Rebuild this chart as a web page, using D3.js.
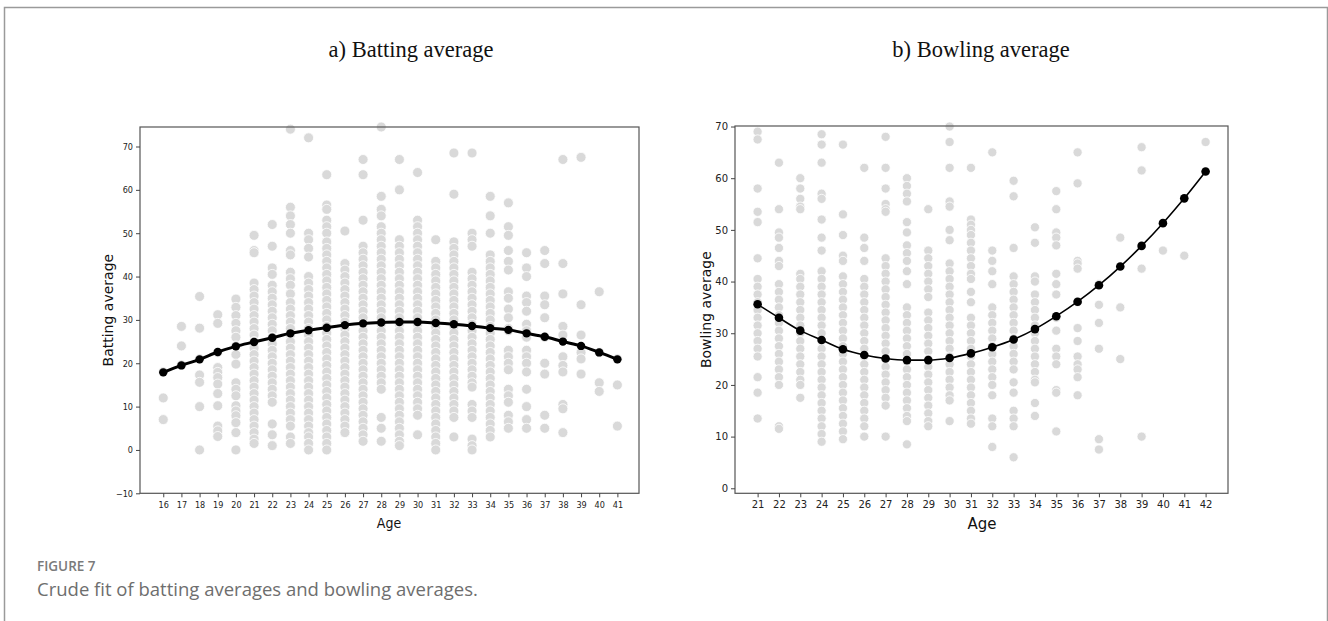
<!DOCTYPE html>
<html><head><meta charset="utf-8">
<script src="https://cdn.jsdelivr.net/npm/d3@7"></script>
<style>
body{margin:0;background:#fff;}
svg{display:block;}
</style></head>
<body>
<svg id="chart" width="1328" height="621"></svg>
<script>
// ---------- DATA ----------
const battingAges = d3.range(16, 42);
const battingFit = [17.9,19.5,20.9,22.6,23.9,24.9,25.9,26.9,27.6,28.2,28.8,29.2,29.4,29.5,29.5,29.3,29.0,28.6,28.1,27.7,26.9,26.1,25.0,24.0,22.5,20.9];
const battingScatter = {
  16:[18,12,7],
  17:[28.5,24,19.6],
  18:[35.4,28.1,21,17.3,15.6,10,0],
  19:[31.2,29.2,22.5,19,17.9,16.7,15.2,13,10.2,5.5,4.4,3.1],
  20:[34.8,32.9,31,29.2,27.5,26,24,22,19.8,15.5,14,12.5,10.2,9,7.9,6.3,4,0],
  21:[49.5,46,45.5,38.5,37,35.5,34,32.5,31,29.5,28,26.5,25,23.5,22,20.5,19,17.5,16,14.5,13,11.5,10,8.5,7,5.5,4,2.5,1.5],
  22:[52,47,42,40.5,38,36.5,35,33.5,32,30.5,29,27.5,26,24.5,23,21.5,20,18.5,17,15.5,14,12.5,11,6,3.5,1],
  23:[74,56,54,52,50,46,45,41,39.5,38,36,34,32.5,31,29.5,28,26.5,25,23.5,22,20.5,19,17.5,16,14.5,13,11.5,10,8.5,7,5.5,3,1.5],
  24:[72,50,48.5,46.5,44.5,40,38.5,37,35.5,34,32.5,31,29.5,28,26.5,25,23.5,22,20.5,19,17.5,16,14.5,13,11.5,10,8.5,7,5.5,4,3,1.5,0],
  25:[63.5,56.5,55.5,53,51.5,50,48,46.5,45,43.5,42,40.5,39,37.5,36,34.5,33,31.5,30,28.5,27,25.5,24,22.5,21,19.5,18,16.5,15,13.5,12,10.5,9,7.5,6,4.5,3,1.5,0],
  26:[50.5,43,41.5,40,38.5,37,35.5,34,32.5,31,29.5,28,26.5,25,23.5,22,20.5,19,17.5,16,14.5,13,11.5,10,8.5,7,5.5,4],
  27:[67,63.5,53,47,45.5,44,42.5,41,39.5,38,36.5,35,33.5,32,30.5,29,27.5,26,24.5,23,21.5,20,18.5,17,15.5,14,12.5,11,9.5,8,6.5,5,3.5,2],
  28:[74.5,58.5,55.5,54,51.5,50,48.5,47,45.5,44,42.5,41,39.5,38,36.5,35,33.5,32,30.5,29,27.5,26,24.5,23,21.5,20,18.5,17,15.5,14,7.5,5,2],
  29:[67,60,48.5,47,45.5,44,42.5,41,39.5,38,36.5,35,33.5,32,30.5,29,27.5,26,24.5,23,21.5,20,18.5,17,15.5,14,12.5,11,9.5,8,6.5,5,3.5,2,1],
  30:[64,53,51.5,50,48.5,47,45.5,44,42.5,41,39.5,38,36.5,35,33.5,32,30.5,29,27.5,26,24.5,23,21.5,20,18.5,17,15.5,14,12.5,11,9.5,8,3.5],
  31:[48.5,43.5,42,40.5,39,37.5,36,34.5,33,31.5,30,28.5,27,25.5,24,22.5,21,19.5,18,16.5,15,13.5,12,10.5,9,7.5,6,4.5,3,1.5,0],
  32:[68.5,59,48,46.5,45,43.5,42,40.5,39,37.5,36,34.5,33,31.5,30,28.5,27,25.5,24,22.5,21,19.5,18,16.5,15,13.5,12,10.5,9,7.5,3],
  33:[68.5,50,48.5,47,41,39.5,38,36.5,35,33.5,32,30.5,29,27.5,26,24.5,23,21.5,20,18.5,17,15.5,14.5,10.5,9,7.5,2.5,1,0],
  34:[58.5,54,50,45,43.5,42,40.5,39,37.5,36,34.5,33,31.5,30,28.5,27,25.5,24,22.5,21,19.5,18,16.5,15,13.5,12,10.5,9,7.5,6,4.5,3],
  35:[57,51.5,49.5,46,43.5,41.5,36.5,35,32.5,30.5,28,27.5,23,21.5,20,18.5,14,12.5,11,8,6.5,5],
  36:[45.5,42,40,35.5,34,32,29,27.5,26,23,21.5,20,18,14,10,7,5],
  37:[46,43,35.5,33.5,30.5,26,20,17.5,8,5],
  38:[67,43,36,28.5,26.5,21.5,19.5,18,10.5,9.5,4],
  39:[67.5,33.5,26.5,22.5,21,17.5],
  40:[36.5,22.5,15.5,13.5],
  41:[21,15,5.5]
};
const bowlingAges = d3.range(21, 43);
const bowlingFit = [35.6,33.0,30.5,28.7,26.9,25.8,25.1,24.8,24.8,25.2,26.1,27.3,28.8,30.8,33.3,36.1,39.3,42.9,46.9,51.3,56.1,61.3];
const bowlingScatter = {
  21:[69,67.5,58,53.5,51.5,44.5,40.5,39,37.5,36,34.5,33,31.5,30,28.5,27,25.5,21.5,18.5,13.5],
  22:[63,54,49.5,48.5,46.5,44,43,39.5,38,36.5,35,33.5,32,30.5,29,27.5,26,24.5,23,21.5,20,12,11.5],
  23:[60,58,56,54.5,54,41.5,40.5,39,37.5,36,34.5,33,31.5,30,28.5,27,25.5,24,22.5,21,20,17.5],
  24:[68.5,66.5,63,57,56,52,48.5,46,42,40.5,39,37.5,36,34.5,33,31.5,30,28.5,27,25.5,24,22.5,21,19.5,18,16.5,15,13.5,12,10.5,9],
  25:[66.5,53,49,45,44,41,39.5,38,36.5,35,33.5,32,30.5,29,27.5,26,24.5,23,21.5,20,18.5,17,15.5,14,12.5,11,9.5],
  26:[62,48.5,46.5,44,40.5,39,37.5,36,34.5,33,31.5,30,28.5,27,25.5,24,22.5,21,19.5,18,16.5,15,13.5,12,10],
  27:[68,62,58,55,54,53.5,44.5,43,41.5,40,38.5,37,35.5,34,32.5,31,29.5,28,26.5,25,23.5,22,20.5,19,17.5,16,10],
  28:[60,58.5,57,55.5,51.5,49.5,47,45.5,44,42,39.5,35,33.5,32,30.5,29,27.5,26,24.5,23,21.5,20,18.5,17,15.5,14,13,8.5],
  29:[54,46,44.5,43,41.5,40,38.5,37,34,32.5,31,29.5,28,26.5,25,23.5,22,20.5,19,17.5,16,14.5,13,12],
  30:[70,67,62,55.5,54.5,50,48,43.5,42,40.5,39,37.5,36,34.5,33,31.5,30,28.5,27,25.5,24,22.5,21,19.5,18,17,13],
  31:[62,52,51,50,49,47.5,46,44.5,43,41.5,40.5,38,36,33,31.5,30,28.5,27,25.5,24,22.5,21,19.5,18,16.5,15,13.5,12.5],
  32:[65,46,44,42,39.5,35,33.5,32,30.5,29,27.5,26,24.5,23,21.5,20,18,13.5,12,8],
  33:[59.5,56.5,46.5,41,39.5,38,36.5,35,33.5,32,30.5,29,27.5,26,24.5,23,20.5,18.5,15,13.5,12,6],
  34:[50.5,47.5,41,40,37.5,36,34.5,33,31.5,30,28.5,27,25.5,24,22.5,21,20.5,16.5,14],
  35:[57.5,54,49.5,48.5,47,41.5,39.5,37.5,33,30.5,27,25.5,24,19,18.5,11],
  36:[65,59,44,43.5,42.5,36,31,28.5,25.5,24,23,21.5,18],
  37:[39.5,35.5,32,27,9.5,7.5],
  38:[48.5,35,25],
  39:[66,61.5,42.5,10],
  40:[46],
  41:[45],
  42:[67]
};
const battingYTicks = [-10,0,10,20,30,40,50,60,70];
const bowlingYTicks = [0,10,20,30,40,50,60,70];

// ---------- DRAW ----------
const svg = d3.select("#chart");
const fmt = d => d < 0 ? "\u2212" + Math.abs(d) : String(d);

// outer frame
svg.append("path").attr("d","M4.5,630 V7.5 H1327.5 V630")
  .attr("fill","none").attr("stroke","#9a9a9a").attr("stroke-width",1.5);

function panel(cfg){
  const g = svg.append("g");
  const x = d3.scaleLinear().domain(cfg.xDomain).range([cfg.left, cfg.right]);
  const y = d3.scaleLinear().domain(cfg.yDomain).range([cfg.bottom, cfg.top]);
  const pts = [];
  Object.keys(cfg.scatter).forEach(k => cfg.scatter[k].forEach(v => pts.push([+k, v])));
  g.append("g").selectAll("circle").data(pts).join("circle")
    .attr("cx", d => x(d[0])).attr("cy", d => y(d[1])).attr("r", cfg.dotR)
    .attr("fill","#d9d9d9").attr("stroke","#ffffff").attr("stroke-width",0.8);
  const line = d3.line().x((d,i)=>x(cfg.ages[i])).y(d=>y(d)).curve(d3.curveMonotoneX);
  g.append("path").datum(cfg.fit).attr("d", line).attr("fill","none")
    .attr("stroke","#000").attr("stroke-width", cfg.lineW);
  g.append("g").selectAll("circle").data(cfg.fit).join("circle")
    .attr("cx",(d,i)=>x(cfg.ages[i])).attr("cy",d=>y(d)).attr("r",cfg.markR).attr("fill","#000");
  // frame
  g.append("rect").attr("x",cfg.left).attr("y",cfg.top)
    .attr("width",cfg.right-cfg.left).attr("height",cfg.bottom-cfg.top)
    .attr("fill","none").attr("stroke","#555").attr("stroke-width",1.2);
  const xa = g.append("g").attr("transform",`translate(0,${cfg.bottom})`)
    .call(d3.axisBottom(x).tickValues(cfg.ages).tickFormat(d3.format("d")).tickSize(4).tickPadding(4));
  const ya = g.append("g").attr("transform",`translate(${cfg.left},0)`)
    .call(d3.axisLeft(y).tickValues(cfg.yTicks).tickFormat(fmt).tickSize(4).tickPadding(3));
  [xa,ya].forEach(a=>{
    a.select(".domain").remove();
    a.selectAll("line").attr("stroke","#444");
    a.selectAll("text").attr("fill","#222").style("font-family",cfg.tickFont).style("font-size",cfg.tickSize+"px");
  });
  g.append("text").attr("x",cfg.ageX).attr("y",cfg.ageY).attr("text-anchor","middle")
    .style("font-family",cfg.tickFont).style("font-size",cfg.ageSize+"px").attr("fill","#111").text("Age");
  g.append("text").attr("transform",`translate(${cfg.ylabX},${(cfg.top+cfg.bottom)/2}) rotate(-90)`)
    .attr("text-anchor","middle").style("font-family","DejaVu Sans, sans-serif")
    .style("font-size","14px").attr("fill","#111").text(cfg.ylabel);
  svg.append("text").attr("x",cfg.titleX).attr("y",57).attr("text-anchor","middle")
    .style("font-family","Liberation Serif, Times New Roman, serif").style("font-size","22.5px")
    .attr("fill","#111").text(cfg.title);
}

panel({
  left:140, right:639, top:127, bottom:493.3,
  xDomain:[14.72, 42.19], yDomain:[-10, 74.5],
  ages:battingAges, fit:battingFit, scatter:battingScatter, yTicks:battingYTicks,
  dotR:5, lineW:3, markR:4.2,
  tickFont:"DejaVu Sans Condensed, DejaVu Sans, sans-serif", tickSize:9,
  ageX:389, ageY:528, ageSize:14,
  ylabX:113, ylabel:"Batting average",
  titleX:411, title:"a) Batting average"
});
panel({
  left:735, right:1228, top:126, bottom:493.3,
  xDomain:[19.94, 43.05], yDomain:[-0.97, 70.1],
  ages:bowlingAges, fit:bowlingFit, scatter:bowlingScatter, yTicks:bowlingYTicks,
  dotR:4.6, lineW:1.6, markR:4.3,
  tickFont:"DejaVu Sans, sans-serif", tickSize:10,
  ageX:982, ageY:529, ageSize:15,
  ylabX:711, ylabel:"Bowling average",
  titleX:981, title:"b) Bowling average"
});

// caption
svg.append("text").attr("x",37).attr("y",571).style("font-family","Open Sans, Lato, sans-serif")
  .style("font-size","13.5px").style("font-weight","600").attr("fill","#7a7a7a").text("FIGURE 7");
svg.append("text").attr("x",37).attr("y",596).style("font-family","Open Sans, Lato, sans-serif")
  .style("font-size","18.5px").attr("fill","#6e6e6e").text("Crude fit of batting averages and bowling averages.");
</script>
</body></html>
